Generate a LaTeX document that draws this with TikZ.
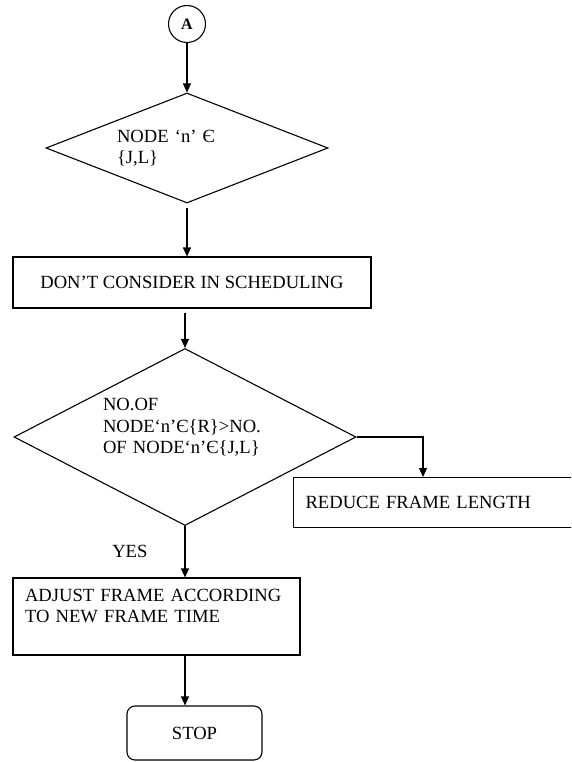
\documentclass[tikz,border=0pt]{standalone}
\usepackage{fontspec}
\setmainfont{Liberation Serif}
\usetikzlibrary{shapes.geometric,arrows.meta}

\begin{document}
\begin{tikzpicture}[x=1pt,y=-1pt,line width=1.1pt,font=\fontsize{18.6}{21.5}\selectfont]
	\tikzstyle{dec} = [draw, diamond, inner sep=0pt, align=left]
	\tikzstyle{blk} = [draw, rectangle, inner sep=0pt]
	\tikzstyle{arr} = [-{Triangle[length=9pt,width=8pt]}]
	\useasboundingbox (0,0) rectangle (571,762);
	\clip (0,0) rectangle (571,762);

	\node [draw, circle, minimum size=37pt, inner sep=0pt, font=\fontsize{16}{18}\selectfont\bfseries] (a) at (187,24) {A};
	\node [dec, aspect=2.56, minimum width=282pt, minimum height=110pt, text width=140pt] (d1) at (187,148) {NODE ‘n’ Є\\\{J,L\}};
	\node [blk, minimum width=358pt, minimum height=51pt] (b1) at (192,282.5) {DON’T CONSIDER IN SCHEDULING};
	\node [dec, aspect=1.93, minimum width=342pt, minimum height=177pt, text width=164pt] (d2) at (185,437) {NO.OF\\NODE‘n’Є\{R\}>NO.\\OF NODE‘n’Є\{J,L\}\\\mbox{}};
	\node [blk, anchor=north west, minimum width=300pt, minimum height=50pt, text width=276pt, inner xsep=12pt, align=left] (b2) at (293,477) {REDUCE FRAME LENGTH};
	\node [blk, minimum width=287pt, minimum height=77pt, text width=263pt, inner xsep=12pt, align=left] (b3) at (156.5,616.5) {ADJUST FRAME ACCORDING\\TO NEW FRAME TIME\\\mbox{}};
	\node [blk, rounded corners=8pt, minimum width=135pt, minimum height=54pt] (stop) at (194.5,733) {STOP};

	\coordinate (bend) at (423,437);

	\draw [arr] (a) -- (d1);
	\draw [arr, shorten <=4pt] (d1.south) -- (d1.south |- b1.north);
	\draw [arr, shorten <=4pt] (d2.north |- b1.south) -- (d2.north);
	\draw [arr] (d2.east) -- (bend) -- (bend |- b2.north);
	\draw [arr] (d2.south) -- (d2.south |- b3.north) node [midway, left=37pt, inner sep=0pt] {YES};
	\draw [arr] (b3.south -| d2.south) -- (stop.north -| d2.south);

\end{tikzpicture}
\end{document}
